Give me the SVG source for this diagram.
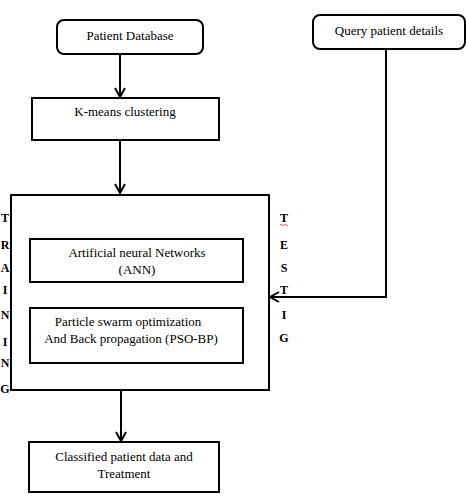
<svg xmlns="http://www.w3.org/2000/svg" width="466" height="498" viewBox="0 0 466 498">
<style>
.box{fill:#fff;stroke:#000;stroke-width:2}
.ln{fill:none;stroke:#000;stroke-width:2}
text{font-family:"Liberation Serif","Times New Roman","DejaVu Serif",serif}
.t{font-size:13px;fill:#000;text-anchor:middle}
.v{font-size:12px;font-weight:bold;fill:#000;text-anchor:middle}
</style>
<defs>
<marker id="ah" markerWidth="12" markerHeight="12" refX="10" refY="6" orient="auto" markerUnits="userSpaceOnUse">
<path d="M1,1 L10,6 L1,11" fill="none" stroke="#000" stroke-width="2"/>
</marker>
</defs>
<rect width="466" height="498" fill="#fff"/>
<g id="connectors">
<line class="ln" x1="120" y1="54" x2="120" y2="97" marker-end="url(#ah)"/>
<line class="ln" x1="120" y1="140" x2="120" y2="193" marker-end="url(#ah)"/>
<polyline class="ln" points="386,49 386,297 270,297" marker-end="url(#ah)"/>
<line class="ln" x1="121" y1="390" x2="121" y2="441" marker-end="url(#ah)"/>
</g>
<g id="patient-database">
<rect class="box" x="57" y="20" width="146" height="34" rx="7"/>
<text class="t" x="130" y="40">Patient Database</text>
</g>
<g id="query">
<rect class="box" x="313" y="15" width="152" height="34" rx="7"/>
<text class="t" x="389" y="35">Query patient details</text>
</g>
<g id="kmeans">
<rect class="box" x="32" y="98" width="187" height="42"/>
<text class="t" x="125" y="116">K-means clustering</text>
</g>
<g id="main-box">
<rect class="box" x="11" y="195" width="258" height="195"/>
</g>
<g id="ann">
<rect class="box" x="30" y="239" width="213" height="43"/>
<text class="t" x="137" y="257">Artificial neural Networks</text>
<text class="t" x="137" y="274">(ANN)</text>
</g>
<g id="pso">
<rect class="box" x="30" y="308" width="213" height="55"/>
<text class="t" x="128" y="326">Particle swarm optimization</text>
<text class="t" x="131" y="343">And Back propagation (PSO-BP)</text>
</g>
<g id="classified">
<rect class="box" x="29" y="442" width="190" height="50"/>
<text class="t" x="124" y="461">Classified patient data and</text>
<text class="t" x="124" y="478">Treatment</text>
</g>
<g id="training-label">
<text class="v" x="5" y="222">T</text>
<text class="v" x="5" y="249">R</text>
<text class="v" x="5" y="272">A</text>
<text class="v" x="5" y="294">I</text>
<text class="v" x="5" y="319">N</text>
<text class="v" x="5" y="346">I</text>
<text class="v" x="5" y="367">N</text>
<text class="v" x="5" y="393">G</text>
</g>
<g id="testing-label">
<text class="v" x="284" y="222">T</text>
<path d="M280,225 q1,-1.5 2,0 t2,0 t2,0 t2,0" fill="none" stroke="#e03030" stroke-width="0.8"/>
<text class="v" x="284" y="249">E</text>
<text class="v" x="284" y="272">S</text>
<text class="v" x="284" y="294">T</text>
<text class="v" x="284" y="319">I</text>
<text class="v" x="284" y="342">G</text>
</g>
</svg>
